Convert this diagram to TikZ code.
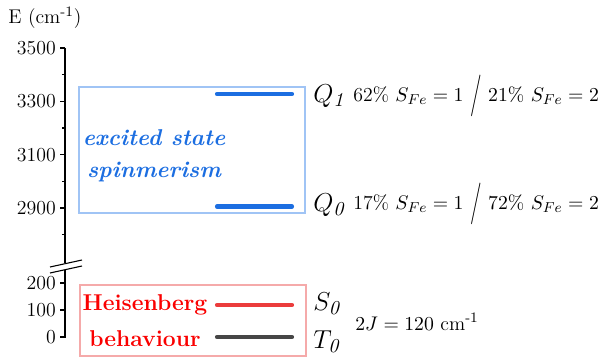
\documentclass[tikz,border=0pt]{standalone}
\usepackage{amsmath,amssymb,graphicx}
\definecolor{esblue}{RGB}{28,110,225}
\definecolor{esframe}{RGB}{160,196,245}
\definecolor{hbred}{RGB}{250,0,0}
\definecolor{hbline}{RGB}{235,60,60}
\definecolor{hbframe}{RGB}{245,170,170}
\definecolor{tgray}{RGB}{70,70,70}
\newcommand{\tallslash}{\mkern6mu\raisebox{-2pt}{\scalebox{1}[1.75]{$\big/$}}\mkern6mu}

\begin{document}
\begin{tikzpicture}[x=0.0195cm, y=-0.0195cm, every node/.style={font=\fontsize{11}{13}\selectfont},
	level/.style={line width=2.3pt, line cap=round},
	lab/.style={font=\fontsize{15}{17}\selectfont, anchor=west, inner sep=0pt},
	tag/.style={font=\fontsize{12.7}{15}\selectfont\bfseries},
	tagit/.style={font=\fontsize{12.7}{15}\selectfont\bfseries\itshape},
	ticklab/.style={anchor=east, inner sep=1pt}]
	\useasboundingbox (0,0) rectangle (600,358);
	% axis with break
	\node[anchor=west, inner sep=0pt] (Eaxis) at (8,18) {E (cm$^{\text{-}1}$)};
	\coordinate (ytop) at (65,48);
	\coordinate (ybrk) at (65,263);
	\coordinate (ylow) at (65,270);
	\coordinate (ybot) at (65,338);
	\draw[line width=0.7pt] (ytop) -- (ybrk);
	\draw[line width=0.7pt] (ylow) -- (ybot);
	\coordinate (b1a) at (50,267); \coordinate (b1b) at (82,260);
	\coordinate (b2a) at (50,273); \coordinate (b2b) at (82,266);
	\draw[line width=0.6pt] (b1a) -- (b1b);
	\draw[line width=0.6pt] (b2a) -- (b2b);
	\foreach \e in {3500,3300,3100,2900} {
		\draw[line width=0.6pt] (60,{48+(3500-\e)*0.26667}) -- (65,{48+(3500-\e)*0.26667});
		\node[ticklab] at (58,{48+(3500-\e)*0.26667}) {\e};
	}
	\foreach \e in {3400,3200,3000,2800}
		\draw[line width=0.6pt] (62,{48+(3500-\e)*0.26667}) -- (65,{48+(3500-\e)*0.26667});
	\foreach \e in {200,100,0} {
		\draw[line width=0.6pt] (60,{337-\e*0.27}) -- (65,{337-\e*0.27});
		\node[ticklab] at (58,{337-\e*0.27}) {\e};
	}
	% excited states
	\draw[esframe, line width=0.6pt] (79,87) rectangle (305,213);
	\node[esblue, tagit] (exc) at (154,138) {excited state};
	\node[esblue, tagit] (spin) at (154,172) {spinmerism};
	\coordinate (q1a) at (217,94); \coordinate (q1b) at (292,94);
	\coordinate (q0a) at (217,206.5); \coordinate (q0b) at (292,206.5);
	\draw[level, esblue] (q1a) -- (q1b);
	\draw[level, esblue] (q0a) -- (q0b);
	\node[lab] (Q1) at (313,96) {$Q_{\mathit{1}}$};
	\node[lab] (Q0) at (313,205) {$Q_{\mathit{0}}$};
	\node[anchor=west, inner sep=0pt] (q1txt) at (353,96) {62\% $S_{Fe}=1\tallslash 21\%\ S_{Fe}=2$};
	\node[anchor=west, inner sep=0pt] (q0txt) at (353,204) {17\% $S_{Fe}=1\tallslash 72\%\ S_{Fe}=2$};
	% ground states
	\draw[hbframe, line width=0.6pt] (80,285) rectangle (306,356);
	\node[hbred, tag] (heis) at (145,305) {Heisenberg};
	\node[hbred, tag] (behav) at (145,339) {behaviour};
	\coordinate (s0a) at (217,305); \coordinate (s0b) at (292,305);
	\coordinate (t0a) at (217,337); \coordinate (t0b) at (292,337);
	\draw[level, hbline] (s0a) -- (s0b);
	\draw[level, tgray] (t0a) -- (t0b);
	\node[lab] (S0) at (313,304) {$S_{\mathit{0}}$};
	\node[lab] (T0) at (313,342) {$T_{\mathit{0}}$};
	\node[anchor=west, inner sep=0pt] (Jtxt) at (355,322) {$2J=120$ cm$^{\text{-}1}$};
\end{tikzpicture}
\end{document}
